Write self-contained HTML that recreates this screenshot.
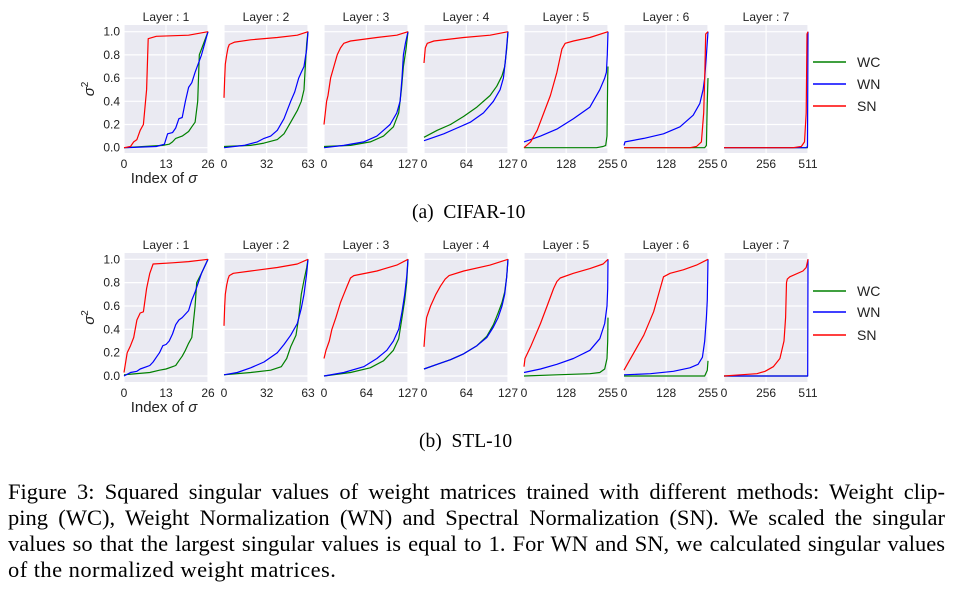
<!DOCTYPE html>
<html><head><meta charset="utf-8">
<style>
body{margin:0;background:#fff;width:956px;height:593px;overflow:hidden;position:relative;font-family:"Liberation Sans",sans-serif}
svg{position:absolute;left:0;top:0}
.cap{position:absolute;font-family:"Liberation Serif",serif;font-size:19.5px;color:#000;white-space:nowrap}
.fc{position:absolute;left:8px;width:937px;font-family:"Liberation Serif",serif;font-size:22.5px;color:#000;white-space:nowrap;text-align:justify;text-align-last:justify;line-height:26px}
</style></head><body>
<svg id="chart" width="956" height="460"></svg>
<div class="cap" style="left:412px;top:202px">(a)&nbsp; CIFAR-10</div>
<div class="cap" style="left:419px;top:431px">(b)&nbsp; STL-10</div>
<div>
<div class="fc" style="top:479px">Figure 3: Squared singular values of weight matrices trained with different methods: Weight clip-</div>
<div class="fc" style="top:505px">ping (WC), Weight Normalization (WN) and Spectral Normalization (SN). We scaled the singular</div>
<div class="fc" style="top:531px">values so that the largest singular values is equal to 1. For WN and SN, we calculated singular values</div>
<div class="fc" style="top:557px;text-align-last:left;width:auto;letter-spacing:0.45px">of the normalized weight matrices.</div>
</div>
<script>
const layerMax=[26,63,127,127,255,255,511];
const yTicks=[0,0.2,0.4,0.6,0.8,1.0];
const yTickLabels=["0.0","0.2","0.4","0.6","0.8","1.0"];
const methods=["WC","WN","SN"];
const colors={WC:"#008000",WN:"#0000ff",SN:"#ff0000"};
// Row 1: CIFAR-10
const cifarWC=[
[[0,0],[12,0.02],[14,0.03],[15,0.05],[16,0.08],[18,0.1],[20,0.14],[21,0.18],[22,0.22],[22.8,0.4],[23.3,0.8],[24,0.85],[26,1]],
[[0,0.01],[20,0.02],[30,0.04],[40,0.07],[45,0.12],[50,0.22],[55,0.32],[58,0.4],[60,0.5],[61,0.7],[62,0.9],[63,1]],
[[0,0.01],[40,0.02],[70,0.05],[90,0.1],[105,0.18],[113,0.3],[117,0.5],[120,0.7],[124,0.85],[127,1]],
[[0,0.09],[20,0.15],[40,0.2],[60,0.27],[80,0.35],[100,0.45],[110,0.53],[118,0.62],[122,0.7],[125,0.85],[127,1]],
[[0,0],[220,0],[240,0.01],[248,0.02],[252,0.1],[254,0.6],[255,0.7]],
[[0,0],[245,0],[250,0.02],[253,0.4],[255,0.6]],
[[0,0],[511,0]]];
const cifarWN=[
[[0,0],[10,0.01],[12.5,0.03],[13.5,0.12],[15,0.13],[16,0.17],[17,0.25],[18,0.26],[19,0.4],[20,0.52],[21,0.56],[22,0.65],[24,0.8],[26,1]],
[[0,0],[15,0.02],[25,0.05],[30,0.08],[35,0.1],[40,0.15],[45,0.25],[50,0.4],[53,0.48],[56,0.6],[58,0.65],[60,0.7],[62,0.85],[63,1]],
[[0,0],[30,0.02],[60,0.05],[80,0.1],[100,0.2],[110,0.3],[115,0.4],[118,0.6],[120,0.8],[123,0.9],[127,1]],
[[0,0.06],[10,0.08],[30,0.12],[50,0.17],[70,0.22],[90,0.3],[105,0.4],[115,0.5],[120,0.6],[123,0.75],[127,1]],
[[0,0.05],[50,0.1],[100,0.16],[150,0.25],[200,0.35],[230,0.5],[245,0.6],[250,0.65],[253,0.8],[255,1]],
[[0,0.02],[3,0.05],[60,0.08],[120,0.12],[170,0.18],[210,0.28],[230,0.38],[240,0.5],[245,0.6],[250,0.8],[255,1]],
[[0,0],[500,0],[508,0.01],[511,1]]];
const cifarSN=[
[[0,0],[2,0.01],[3,0.05],[4,0.07],[5,0.15],[6,0.2],[7,0.5],[7.5,0.94],[10,0.96],[20,0.97],[26,1]],
[[0,0.43],[0.5,0.6],[1,0.72],[2,0.8],[3,0.86],[4,0.89],[8,0.91],[20,0.93],[40,0.95],[55,0.97],[63,1]],
[[0,0.2],[2,0.3],[4,0.4],[6,0.45],[10,0.6],[15,0.7],[20,0.8],[25,0.86],[30,0.9],[40,0.92],[80,0.95],[110,0.97],[127,1]],
[[0,0.73],[2,0.86],[5,0.9],[15,0.92],[60,0.95],[100,0.97],[127,1]],
[[0,0],[20,0.05],[40,0.15],[60,0.3],[80,0.45],[100,0.65],[115,0.85],[125,0.9],[150,0.92],[200,0.95],[255,1]],
[[0,0],[200,0],[220,0.01],[235,0.05],[242,0.3],[245,0.6],[248,0.98],[255,1]],
[[0,0],[420,0],[470,0.01],[490,0.05],[500,0.3],[505,0.98],[511,1]]];
// Row 2: STL-10
const stlWC=[
[[0,0.01],[8,0.03],[11,0.05],[13,0.06],[15,0.08],[16,0.09],[17,0.13],[18,0.17],[19,0.22],[20,0.28],[21,0.33],[22,0.6],[22.5,0.8],[24,0.88],[26,1]],
[[0,0.01],[20,0.03],[35,0.05],[43,0.08],[47,0.15],[50,0.25],[54,0.35],[56,0.5],[58,0.7],[60,0.82],[62,0.93],[63,1]],
[[0,0],[40,0.03],[70,0.07],[90,0.13],[105,0.22],[113,0.32],[118,0.5],[122,0.65],[125,0.8],[127,1]],
[[0,0.06],[20,0.1],[40,0.14],[60,0.19],[80,0.26],[95,0.34],[105,0.44],[112,0.54],[118,0.63],[122,0.72],[125,0.85],[127,1]],
[[0,0],[100,0.01],[200,0.02],[230,0.03],[245,0.06],[252,0.15],[254,0.3],[255,0.5]],
[[0,0],[245,0],[253,0.05],[255,0.13]],
[[0,0],[511,0]]];
const stlWN=[
[[0,0],[2,0.03],[4,0.04],[5,0.06],[7,0.08],[8,0.09],[9,0.12],[10,0.16],[11,0.2],[12,0.26],[13,0.27],[14,0.3],[15,0.36],[16,0.44],[17,0.48],[18,0.5],[19,0.53],[20,0.56],[21,0.65],[22,0.72],[24,0.88],[26,1]],
[[0,0.01],[10,0.03],[20,0.07],[30,0.12],[40,0.2],[45,0.27],[50,0.35],[55,0.45],[58,0.58],[60,0.7],[62,0.88],[63,1]],
[[0,0],[30,0.03],[60,0.08],[80,0.15],[95,0.22],[105,0.3],[113,0.4],[118,0.55],[122,0.7],[125,0.85],[127,1]],
[[0,0.06],[20,0.1],[40,0.14],[60,0.19],[80,0.26],[95,0.33],[105,0.42],[112,0.5],[118,0.6],[122,0.7],[125,0.85],[127,1]],
[[0,0.03],[50,0.06],[100,0.1],[150,0.15],[200,0.22],[230,0.32],[245,0.45],[252,0.6],[254,0.75],[255,1]],
[[0,0.01],[80,0.02],[150,0.04],[200,0.07],[225,0.1],[238,0.16],[245,0.3],[250,0.5],[253,0.65],[255,1]],
[[0,0],[509,0],[511,1]]];
const stlSN=[
[[0,0.03],[1,0.2],[2,0.26],[3,0.33],[4,0.48],[5,0.54],[6,0.55],[7,0.75],[8,0.88],[9,0.96],[15,0.97],[20,0.98],[26,1]],
[[0,0.43],[0.5,0.6],[1,0.7],[2,0.78],[3,0.83],[4,0.86],[7,0.88],[20,0.9],[40,0.93],[55,0.96],[63,1]],
[[0,0.15],[3,0.22],[8,0.3],[12,0.4],[18,0.5],[25,0.63],[30,0.7],[35,0.77],[40,0.84],[45,0.86],[80,0.9],[110,0.95],[127,1]],
[[0,0.25],[2,0.4],[4,0.5],[10,0.6],[18,0.7],[25,0.77],[32,0.83],[38,0.86],[60,0.9],[100,0.95],[127,1]],
[[0,0.08],[3,0.15],[20,0.25],[50,0.45],[70,0.6],[90,0.75],[100,0.81],[110,0.84],[150,0.88],[200,0.92],[240,0.96],[255,1]],
[[0,0.05],[10,0.1],[30,0.2],[60,0.35],[90,0.55],[110,0.75],[120,0.85],[140,0.88],[180,0.91],[220,0.95],[255,1]],
[[0,0],[100,0.01],[200,0.02],[250,0.04],[300,0.08],[340,0.15],[365,0.3],[375,0.5],[380,0.8],[385,0.83],[400,0.85],[480,0.9],[500,0.93],[511,1]]];

const NS="http://www.w3.org/2000/svg";
const svg=document.getElementById("chart");
function mk(tag,attrs,parent){const e=document.createElementNS(NS,tag);for(const k in attrs)e.setAttribute(k,attrs[k]);(parent||svg).appendChild(e);return e;}
const rows=[{top:25,bot:153,y0:147.7,y1:31.7,data:{WC:cifarWC,WN:cifarWN,SN:cifarSN},name:"cifar"},
            {top:253,bot:382,y0:376,y1:259.3,data:{WC:stlWC,WN:stlWN,SN:stlSN},name:"stl"}];
rows.forEach((r,ri)=>{
  const ys=v=>r.y0+(r.y1-r.y0)*v;
  for(let p=0;p<7;p++){
    const L=124+p*100,W=84,mx=layerMax[p];
    const xs=v=>L+W*v/mx;
    const g=mk("g",{});
    
    
    mk("rect",{x:L,y:r.top,width:W,height:r.bot-r.top,fill:"#eaeaf2"},g);
    yTicks.forEach(t=>mk("line",{x1:L,x2:L+W,y1:ys(t),y2:ys(t),stroke:"#fff","stroke-width":1.2},g));
    const xt=[0,Math.ceil(mx/2),mx];
    if(p===0)xt[1]=13;
    xt.forEach(t=>mk("line",{x1:xs(t),x2:xs(t),y1:r.top,y2:r.bot,stroke:"#fff","stroke-width":1.2},g));
    const ttl=mk("text",{x:L+W/2,y:r.top-4,"text-anchor":"middle","font-size":"12","fill":"#222"},g);
    ttl.textContent="Layer : "+(p+1);
    
    
    xt.forEach((t,i)=>{const tx=mk("text",{x:xs(t),y:r.bot+15,"text-anchor":"middle","font-size":"12","fill":"#222"},g);tx.textContent=t;
      
      });
    if(p===0){
      yTicks.forEach((t,i)=>{const tx=mk("text",{x:L-4,y:ys(t)+4,"text-anchor":"end","font-size":"12","fill":"#222"},g);tx.textContent=yTickLabels[i];
        
        });
      const yl=mk("text",{x:0,y:0,transform:`translate(${L-30},${(r.top+r.bot)/2}) rotate(-90)`,"text-anchor":"middle","font-size":"15","font-style":"italic","fill":"#222"},g);
      yl.innerHTML='σ<tspan dy="-6" font-size="10" font-style="normal">2</tspan>';
      
      
      const xl=mk("text",{x:L+40,y:r.bot+30,"text-anchor":"middle","font-size":"15","fill":"#222"},g);
      xl.innerHTML='Index of <tspan font-style="italic">σ</tspan>';
      
      
    }
    methods.forEach(m=>{
      const pts=r.data[m][p].map(d=>xs(d[0]).toFixed(1)+","+ys(d[1]).toFixed(1)).join(" ");
      const pl=mk("polyline",{points:pts,fill:"none",stroke:colors[m],"stroke-width":1.2,"stroke-linejoin":"round"},g);
      
      
    });
  }
  const legY=[ri?291:62,ri?312:84,ri?335:106];
  methods.forEach((m,i)=>{
    const lg=mk("g",{});
    
    
    mk("line",{x1:813,x2:846,y1:legY[i],y2:legY[i],stroke:colors[m],"stroke-width":1.5},lg);
    const t=mk("text",{x:857,y:legY[i]+5,"font-size":"14","fill":"#222"},lg);t.textContent=m;
  });
});
</script>
</body></html>
